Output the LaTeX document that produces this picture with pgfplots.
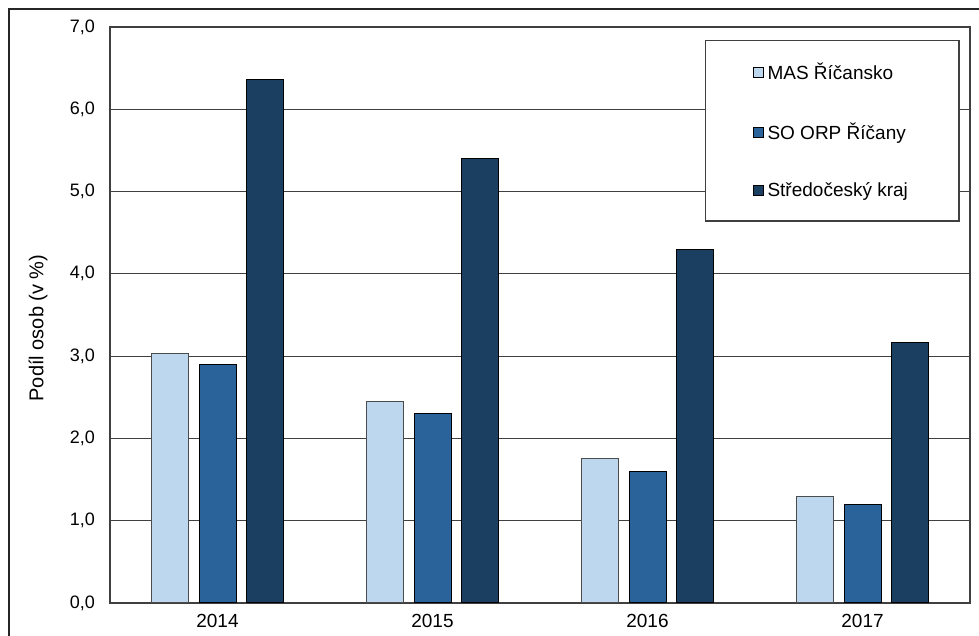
\documentclass[border=0pt]{standalone}
\usepackage{pgfplots}
\pgfplotsset{compat=1.18}
\usepackage{fontspec}
\setmainfont{Liberation Sans}
\definecolor{cLight}{RGB}{189,215,238}
\definecolor{cMid}{RGB}{41,99,153}
\definecolor{cDark}{RGB}{27,63,96}
\definecolor{gridc}{RGB}{64,64,64}
\begin{document}
\begin{tikzpicture}[x=1pt,y=1pt]
\path[use as bounding box] (0,0) rectangle (489.5,318);
\draw[line width=0.9pt,black!85] (4.5,-20) -- (4.5,313.5) -- (520,313.5);
\begin{axis}[
  at={(55pt,16.5pt)}, anchor=south west,
  scale only axis, width=430pt, height=288pt,
  ybar=5.25pt, bar width=18.5pt,
  xmin=-0.5, xmax=3.5, ymin=0, ymax=7,
  xtick=data, xticklabels={2014,2015,2016,2017},
  ytick={0,1,...,7},
  major tick length=0pt,
  ymajorgrids, grid style={gridc, line width=0.6pt},
  axis line style={gridc, line width=0.6pt},
  /pgf/number format/fixed, /pgf/number format/fixed zerofill, /pgf/number format/precision=1,
  /pgf/number format/use comma, /pgf/number format/assume math mode=true,
  ticklabel style={font=\fontsize{9}{10}\selectfont},
  xticklabel style={font=\fontsize{9.5}{10}\selectfont, yshift=-2pt},
  yticklabel style={xshift=-4pt},
  ylabel={Podíl osob (v \%)},
  ylabel style={font=\fontsize{10}{11}\selectfont},
  every axis y label/.append style={at={(-36pt,137.5pt)}, anchor=center},
  legend style={at={(0.692,0.977)}, anchor=north west, draw=gridc, line width=0.6pt,
     inner xsep=23.5pt, inner ysep=9pt, row sep=16pt,
     font=\fontsize{9.5}{10}\selectfont},
  legend cell align=left,
  legend image code/.code={\draw[#1, draw=black, line width=0.4pt] (0pt,-2.5pt) rectangle (5pt,2.5pt);},
]
\addplot[fill=cLight, draw=black!70, line width=0.5pt] coordinates {(0,3.03) (1,2.45) (2,1.76) (3,1.30)};
\addplot[fill=cMid, draw=black, line width=0.5pt] coordinates {(0,2.90) (1,2.30) (2,1.60) (3,1.20)};
\addplot[fill=cDark, draw=black, line width=0.5pt] coordinates {(0,6.36) (1,5.40) (2,4.30) (3,3.17)};
\legend{MAS Říčansko, SO ORP Říčany, Středočeský kraj}
\end{axis}
\end{tikzpicture}
\end{document}
